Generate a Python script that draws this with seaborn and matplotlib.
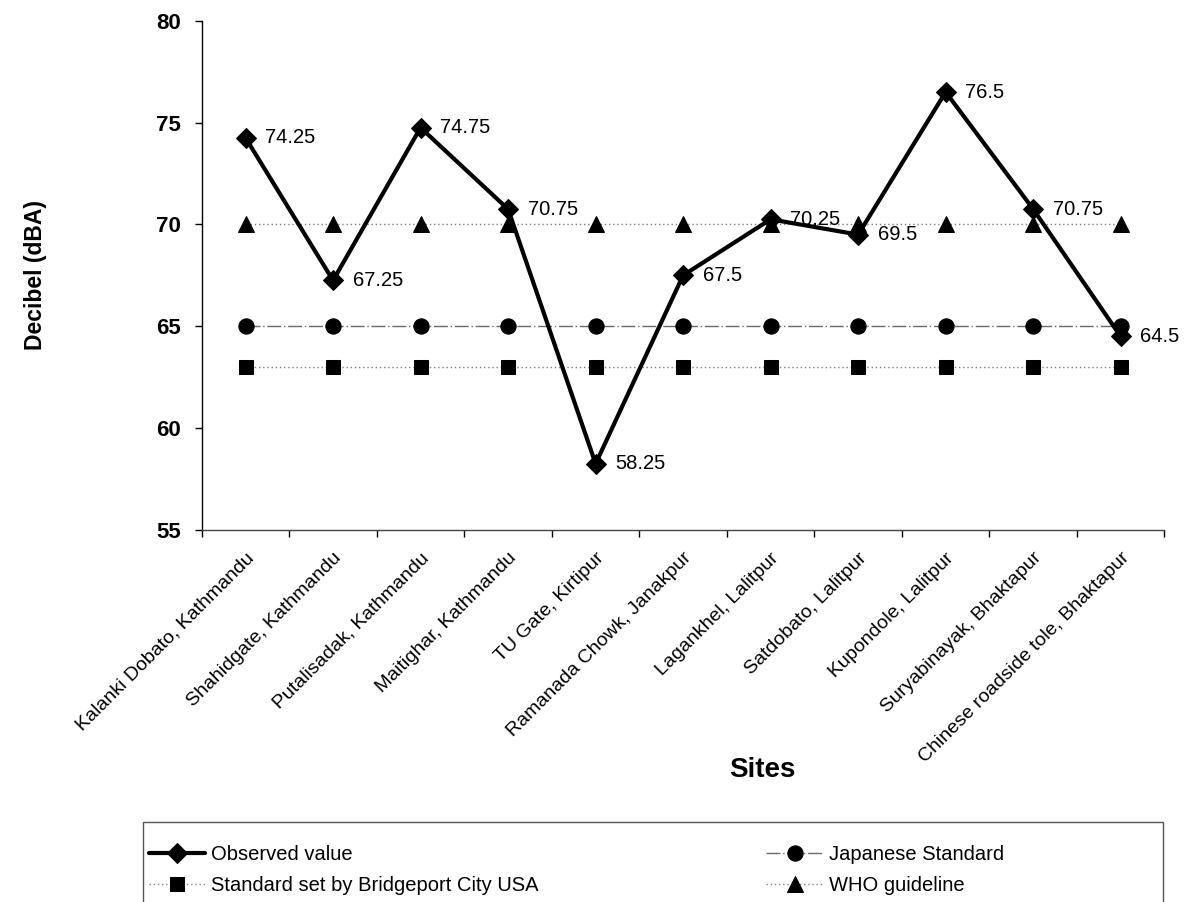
import matplotlib
matplotlib.use("Agg")
import matplotlib.pyplot as plt
from matplotlib.ticker import FixedLocator, NullFormatter
from matplotlib.patches import Rectangle
from matplotlib.transforms import ScaledTranslation
import seaborn as sns
import pandas as pd
import numpy as np

sites = [
    "Kalanki Dobato, Kathmandu",
    "Shahidgate, Kathmandu",
    "Putalisadak, Kathmandu",
    "Maitighar, Kathmandu",
    "TU Gate, Kirtipur",
    "Ramanada Chowk, Janakpur",
    "Lagankhel, Lalitpur",
    "Satdobato, Lalitpur",
    "Kupondole, Lalitpur",
    "Suryabinayak, Bhaktapur",
    "Chinese roadside tole, Bhaktapur",
]
observed = [74.25, 67.25, 74.75, 70.75, 58.25, 67.5, 70.25, 69.5, 76.5, 70.75, 64.5]
japanese_std = [65] * 11
bridgeport_std = [63] * 11
who_guideline = [70] * 11
y_ticks = [55, 60, 65, 70, 75, 80]

df = pd.DataFrame({
    "site": sites,
    "observed": observed,
    "japanese": japanese_std,
    "bridgeport": bridgeport_std,
    "who": who_guideline,
})

sns.set_theme(style="white")
plt.rcParams["font.family"] = ["Liberation Sans", "DejaVu Sans"]
plt.rcParams.update({
    "text.color": "black",
    "axes.labelcolor": "black",
    "xtick.color": "black",
    "ytick.color": "black",
})

fig = plt.figure(figsize=(11.87, 9.02), dpi=100)
ax = fig.add_axes([0.170, 0.4125, 0.811, 0.5645])

ref_color = "#7f7f7f"
sns.lineplot(data=df, x="site", y="bridgeport", sort=False, ax=ax,
             color=ref_color, lw=1.0, linestyle=(0, (1, 2)),
             marker="s", markersize=10, markerfacecolor="black",
             markeredgecolor="black", label="Standard set by Bridgeport City USA")
sns.lineplot(data=df, x="site", y="japanese", sort=False, ax=ax,
             color="#6a6a6a", lw=1.0, linestyle=(0, (10, 2, 1, 2)),
             marker="o", markersize=11, markerfacecolor="black",
             markeredgecolor="black", label="Japanese Standard")
sns.lineplot(data=df, x="site", y="who", sort=False, ax=ax,
             color=ref_color, lw=1.0, linestyle=(0, (1, 2)),
             marker="^", markersize=11, markerfacecolor="black",
             markeredgecolor="black", label="WHO guideline")
sns.lineplot(data=df, x="site", y="observed", sort=False, ax=ax,
             color="black", lw=3, marker="D", markersize=10,
             markerfacecolor="black", markeredgecolor="black",
             label="Observed value")

for i, v in enumerate(observed):
    ax.annotate(f"{v:g}", (i, v), xytext=(14, 0), textcoords="offset points",
                ha="left", va="center", fontsize=14.5, color="black")

n = len(sites)
ax.set_xlim(-0.5, n - 0.5)
ax.set_ylim(55, 80)
ax.set_yticks(y_ticks)
ax.set_yticklabels([str(t) for t in y_ticks], fontsize=16, fontweight="bold")
ax.tick_params(axis="y", length=5, width=1, color="black", left=True, pad=10)

ax.set_xticks(range(n))
ax.set_xticklabels(sites, rotation=45, ha="right", rotation_mode="anchor", fontsize=14)
shift = ScaledTranslation(-12 / 100, 0, fig.dpi_scale_trans)
for lbl in ax.get_xticklabels():
    lbl.set_transform(lbl.get_transform() + shift)
ax.xaxis.set_minor_locator(FixedLocator(np.arange(-0.5, n, 1.0)))
ax.xaxis.set_minor_formatter(NullFormatter())
ax.tick_params(axis="x", which="major", length=0, pad=14)
ax.tick_params(axis="x", which="minor", length=5, width=1, color="black", bottom=True)

for side in ["top", "right"]:
    ax.spines[side].set_visible(False)
ax.spines["left"].set_color("black")
ax.spines["left"].set_linewidth(1)
ax.spines["bottom"].set_color("#444444")
ax.spines["bottom"].set_linewidth(1)

ax.set_xlabel("Sites", fontsize=20, fontweight="bold")
ax.set_ylabel("Decibel (dBA)", fontsize=16.5, fontweight="bold")
ax.xaxis.set_label_coords(0.582, -0.445)
ax.yaxis.set_label_coords(-0.161, 0.5)

ax.get_legend().remove()
handles, labels = ax.get_legend_handles_labels()
order = ["Observed value", "Standard set by Bridgeport City USA",
         "Japanese Standard", "WHO guideline"]
hmap = dict(zip(labels, handles))

# outer box of the key, running off the bottom edge
fig.patches.append(Rectangle((0.1205, -0.02), 0.859, 0.109,
                             transform=fig.transFigure, fill=False,
                             edgecolor="#555555", linewidth=1))
leg = fig.legend([hmap[k] for k in order], order, loc="upper left",
                 bbox_to_anchor=(0.122, 0.068), ncol=2, fontsize=14.5,
                 frameon=False, handlelength=2.8, borderpad=0.2,
                 borderaxespad=0, labelspacing=0.6, handletextpad=0.3,
                 columnspacing=11.3)

fig.savefig("out.png", dpi=100, facecolor="white")
